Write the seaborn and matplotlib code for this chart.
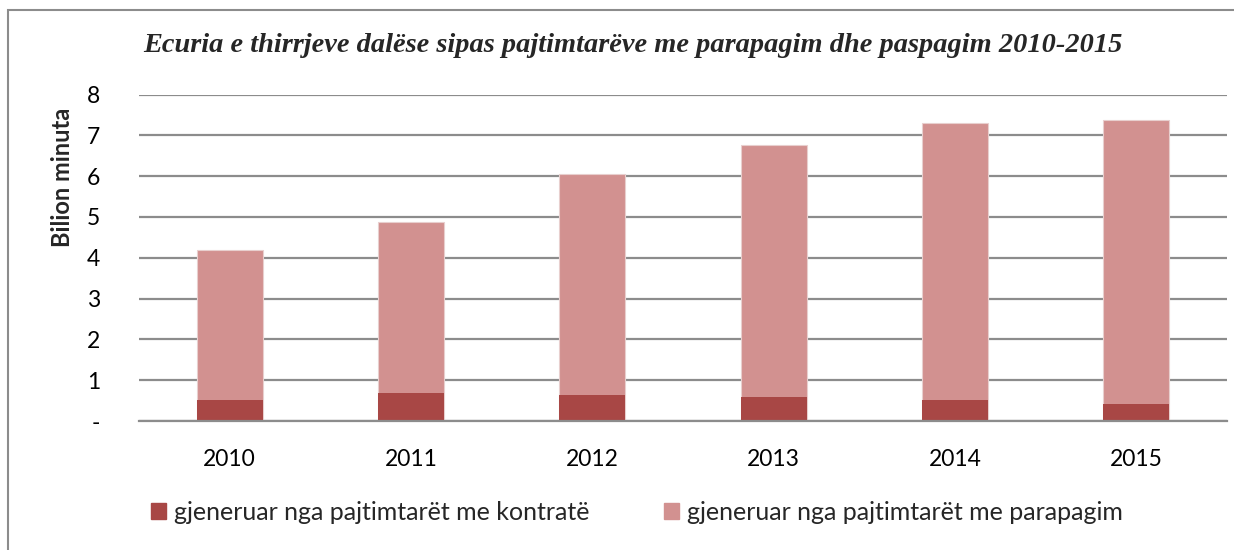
import numpy as np
import pandas as pd
import matplotlib
matplotlib.use("Agg")
import matplotlib.pyplot as plt
from matplotlib.patches import Rectangle
import seaborn as sns

years = ["2010", "2011", "2012", "2013", "2014", "2015"]
contract = [0.51, 0.69, 0.64, 0.59, 0.51, 0.42]
prepaid = [3.67, 4.19, 5.40, 6.17, 6.79, 6.96]

label_contract = "gjeneruar nga pajtimtarët me kontratë"
label_prepaid = "gjeneruar nga pajtimtarët me parapagim"
title = "Ecuria e thirrjeve dalëse sipas pajtimtarëve me parapagim dhe paspagim 2010-2015"

dark = "#A84745"
light = "#D29190"
grid = "#8C8C8C"

sns.set_style("white")
plt.rcParams["font.family"] = ["Lato", "DejaVu Sans"]

df = pd.DataFrame({"year": years, "contract": contract, "prepaid": prepaid})
df["total"] = df["contract"] + df["prepaid"]

fig = plt.figure(figsize=(12.34, 5.5), dpi=100)
ax = fig.add_axes([139 / 1234, 1 - 421 / 550, 1088 / 1234, 326.5 / 550])

# stacked look: totals first, then the bottom segment on top
sns.barplot(data=df, x="year", y="total", color=light, width=0.364,
            edgecolor="#E8CFCE", linewidth=0.8, saturation=1, ax=ax, zorder=3)
sns.barplot(data=df, x="year", y="contract", color=dark, width=0.364,
            edgecolor="none", saturation=1, ax=ax, zorder=4)

ax.set_ylim(0, 8)
ax.set_xlim(-0.5, 5.5)
ax.set_yticks(range(0, 9))
ax.set_yticklabels(["-"] + [str(i) for i in range(1, 9)])
ax.yaxis.grid(True, color=grid, linewidth=1.6)
ax.set_axisbelow(True)
for s in ["top", "right", "left"]:
    ax.spines[s].set_visible(False)
ax.spines["bottom"].set_color(grid)
ax.spines["bottom"].set_linewidth(1.6)
ax.spines["bottom"].set_zorder(5)
ax.tick_params(axis="both", length=0, labelsize=16.5, colors="black")
ax.tick_params(axis="y", pad=28)
ax.tick_params(axis="x", pad=20)
ax.set_xlabel("")
ax.set_ylabel("")

fig.text(62 / 1234, 1 - 177 / 550, "Bilion minuta", rotation=90, ha="center",
         va="center", fontsize=17, fontweight="bold")
fig.text(633 / 1234, 1 - 45 / 550, title, ha="center", va="center",
         fontsize=20.4, fontweight="bold", fontstyle="italic",
         family=["Liberation Serif", "DejaVu Serif"])

handles = [Rectangle((0, 0), 1, 1, color=dark), Rectangle((0, 0), 1, 1, color=light)]
fig.legend(handles, [label_contract, label_prepaid], loc="center",
           bbox_to_anchor=(637 / 1234, 1 - 512 / 550), ncol=2, frameon=False,
           fontsize=18, handlelength=0.6, handleheight=0.6, handletextpad=0.3,
           columnspacing=3.0)

fig.patches.append(Rectangle((8 / 1234, -0.1), 1.2, 1.1 - 10 / 550,
                             transform=fig.transFigure, fill=False,
                             edgecolor="#8C8C8C", linewidth=1.5))

fig.savefig("out.png", dpi=100, facecolor="white")
